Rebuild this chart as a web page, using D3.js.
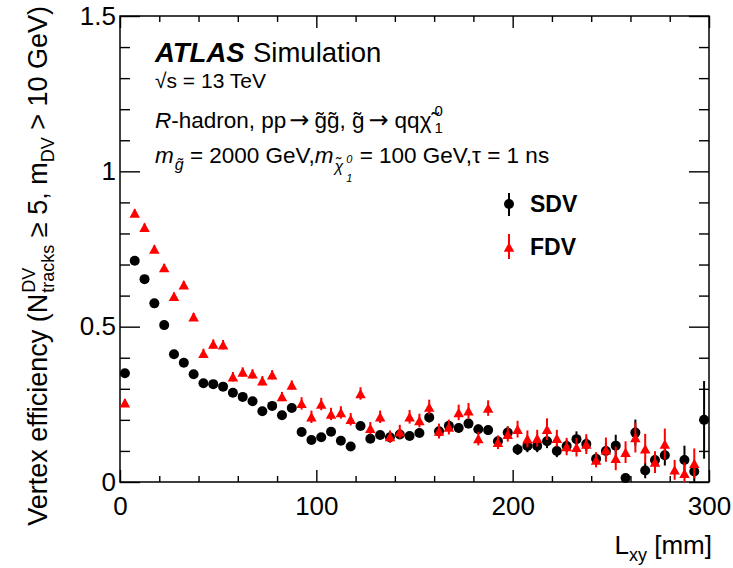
<!DOCTYPE html>
<html>
<head>
<meta charset="utf-8">
<script src="https://cdn.jsdelivr.net/npm/d3@7"></script>
<style>
  body { margin: 0; background: #fff; }
  svg { display: block; }
  text { font-family: "Liberation Sans", Arial, Helvetica, sans-serif; fill: #000; white-space: pre; }
</style>
</head>
<body>
<svg id="chart" width="733" height="568"></svg>
<script>
// Bin centres in L_xy [mm] (5 mm bins)
const Lxy = [2.5, 7.5, 12.5, 17.5, 22.5, 27.5, 32.5, 37.5, 42.5, 47.5,
  52.5, 57.5, 62.5, 67.5, 72.5, 77.5, 82.5, 87.5, 92.5, 97.5,
  102.5, 107.5, 112.5, 117.5, 122.5, 127.5, 132.5, 137.5, 142.5, 147.5,
  152.5, 157.5, 162.5, 167.5, 172.5, 177.5, 182.5, 187.5, 192.5, 197.5,
  202.5, 207.5, 212.5, 217.5, 222.5, 227.5, 232.5, 237.5, 242.5, 247.5,
  252.5, 257.5, 262.5, 267.5, 272.5, 277.5, 282.5, 287.5, 292.5, 297.5];

// SDV efficiency and uncertainty (null = empty bin)
const sdvEff = [0.350, 0.712, 0.653, 0.575, 0.505, 0.411, 0.384, 0.347, 0.318, 0.315,
  0.307, 0.287, 0.274, 0.260, 0.228, 0.245, 0.215, 0.238, 0.161, 0.135,
  0.144, 0.162, 0.133, 0.114, 0.180, 0.139, 0.151, 0.144, 0.153, 0.148,
  0.158, 0.208, 0.163, 0.181, 0.174, 0.188, 0.170, 0.167, 0.131, 0.159,
  0.105, 0.116, 0.116, 0.131, 0.100, 0.116, 0.138, 0.122, 0.075, 0.100,
  0.117, 0.013, 0.159, 0.037, 0.071, 0.086, null, 0.071, 0.034, 0.200];
const sdvErr = [0.010, 0.010, 0.010, 0.010, 0.010, 0.010, 0.010, 0.010, 0.010, 0.010,
  0.010, 0.010, 0.010, 0.010, 0.010, 0.010, 0.010, 0.010, 0.013, 0.013,
  0.013, 0.013, 0.013, 0.013, 0.013, 0.013, 0.013, 0.013, 0.013, 0.013,
  0.013, 0.016, 0.015, 0.015, 0.015, 0.015, 0.015, 0.015, 0.015, 0.020,
  0.018, 0.020, 0.020, 0.022, 0.020, 0.020, 0.025, 0.022, 0.020, 0.025,
  0.035, 0.010, 0.042, 0.025, 0.020, 0.033, null, 0.046, 0.035, 0.125];

// FDV efficiency and uncertainty (null = empty bin)
const fdvEff = [0.255, 0.866, 0.820, 0.750, 0.690, 0.598, 0.635, 0.532, 0.414, 0.444,
  0.442, 0.339, 0.354, 0.348, 0.326, 0.345, 0.275, 0.312, 0.253, 0.210,
  0.251, 0.219, 0.224, 0.202, 0.285, 0.173, 0.210, 0.146, 0.162, 0.210,
  0.198, 0.241, 0.164, 0.177, 0.224, 0.229, 0.140, 0.238, 0.128, 0.154,
  0.170, 0.139, 0.141, 0.170, 0.141, 0.114, 0.112, 0.122, 0.071, 0.104,
  0.076, 0.096, 0.143, 0.107, 0.064, 0.122, 0.039, 0.028, 0.060, null];
const fdvErr = [0.012, 0.012, 0.012, 0.012, 0.012, 0.012, 0.012, 0.012, 0.015, 0.015,
  0.015, 0.015, 0.015, 0.015, 0.015, 0.015, 0.015, 0.015, 0.020, 0.020,
  0.020, 0.020, 0.020, 0.020, 0.020, 0.020, 0.020, 0.020, 0.022, 0.022,
  0.022, 0.024, 0.024, 0.024, 0.025, 0.025, 0.022, 0.025, 0.022, 0.024,
  0.027, 0.027, 0.027, 0.035, 0.027, 0.028, 0.030, 0.032, 0.024, 0.039,
  0.038, 0.035, 0.048, 0.048, 0.035, 0.050, 0.032, 0.035, 0.048, null];

// Axis ticks and labels
const xTicks = [0, 100, 200, 300];
const xTickLabels = ["0", "100", "200", "300"];
const yTicks = [0, 0.5, 1, 1.5];
const yTickLabels = ["0", "0.5", "1", "1.5"];
const xMinorStep = 20;
const yMinorStep = 0.1;

const svg = d3.select("#chart");
const plot = { left: 120, right: 709, top: 16, bottom: 482 };

const x = d3.scaleLinear().domain([0, 300]).range([plot.left, plot.right]);
const y = d3.scaleLinear().domain([0, 1.5]).range([plot.bottom, plot.top]);

const xMinor = d3.range(0, 300 + 1e-9, xMinorStep).filter(v => !xTicks.includes(v));
const yMinor = d3.range(0, 1.5 + 1e-9, yMinorStep).map(v => +v.toFixed(2)).filter(v => !yTicks.includes(v));

function styleAxis(g, fontSize) {
  g.select(".domain").remove();
  g.selectAll(".tick line").attr("stroke", "#000").attr("stroke-width", 1.4);
  g.selectAll("text").style("font-size", fontSize + "px")
    .style("font-family", '"Liberation Sans", Arial, Helvetica, sans-serif').attr("fill", "#000");
}

// Bottom axis (labels + major), minor
svg.append("g").attr("transform", `translate(0,${plot.bottom})`)
  .call(d3.axisBottom(x).tickValues(xTicks).tickFormat((d, i) => xTickLabels[i])
    .tickSizeInner(-12).tickSizeOuter(0).tickPadding(15))
  .call(g => styleAxis(g, 26));
svg.append("g").attr("transform", `translate(0,${plot.bottom})`)
  .call(d3.axisBottom(x).tickValues(xMinor).tickFormat("").tickSizeInner(-6).tickSizeOuter(0))
  .call(g => styleAxis(g, 26));
// Top axis
svg.append("g").attr("transform", `translate(0,${plot.top})`)
  .call(d3.axisTop(x).tickValues(xTicks).tickFormat("").tickSizeInner(-12).tickSizeOuter(0))
  .call(g => styleAxis(g, 26));
svg.append("g").attr("transform", `translate(0,${plot.top})`)
  .call(d3.axisTop(x).tickValues(xMinor).tickFormat("").tickSizeInner(-6).tickSizeOuter(0))
  .call(g => styleAxis(g, 26));

// Left axis
svg.append("g").attr("transform", `translate(${plot.left},0)`)
  .call(d3.axisLeft(y).tickValues(yTicks).tickFormat((d, i) => yTickLabels[i])
    .tickSizeInner(-20).tickSizeOuter(0).tickPadding(4))
  .call(g => styleAxis(g, 26));
svg.append("g").attr("transform", `translate(${plot.left},0)`)
  .call(d3.axisLeft(y).tickValues(yMinor).tickFormat("").tickSizeInner(-10).tickSizeOuter(0))
  .call(g => styleAxis(g, 26));
// Right axis
svg.append("g").attr("transform", `translate(${plot.right},0)`)
  .call(d3.axisRight(y).tickValues(yTicks).tickFormat("").tickSizeInner(-20).tickSizeOuter(0))
  .call(g => styleAxis(g, 26));
svg.append("g").attr("transform", `translate(${plot.right},0)`)
  .call(d3.axisRight(y).tickValues(yMinor).tickFormat("").tickSizeInner(-10).tickSizeOuter(0))
  .call(g => styleAxis(g, 26));

// Frame
svg.append("rect")
  .attr("x", plot.left).attr("y", plot.top)
  .attr("width", plot.right - plot.left).attr("height", plot.bottom - plot.top)
  .attr("fill", "none").attr("stroke", "#000").attr("stroke-width", 1.5);

// Upward triangle marker centred on its bounding box
const triangleUp = {
  draw(ctx, size) {
    const w = Math.sqrt(size), h = 0.9 * w;
    ctx.moveTo(0, -h / 2);
    ctx.lineTo(w / 2, h / 2);
    ctx.lineTo(-w / 2, h / 2);
    ctx.closePath();
  }
};

const series = [
  { name: "SDV", eff: sdvEff, err: sdvErr, color: "#000000", symbol: d3.symbolCircle, size: Math.PI * 25 },
  { name: "FDV", eff: fdvEff, err: fdvErr, color: "#ff0000", symbol: triangleUp, size: 110 }
];

series.forEach(s => {
  const pts = Lxy.map((L, i) => ({ L, v: s.eff[i], e: s.err[i] })).filter(d => d.v != null);
  const g = svg.append("g");
  g.selectAll("line").data(pts).join("line")
    .attr("x1", d => x(d.L)).attr("x2", d => x(d.L))
    .attr("y1", d => y(Math.max(0, d.v - d.e))).attr("y2", d => y(d.v + d.e))
    .attr("stroke", s.color).attr("stroke-width", 2);
  g.selectAll("path").data(pts).join("path")
    .attr("transform", d => `translate(${x(d.L)},${y(d.v)})`)
    .attr("d", d3.symbol(s.symbol, s.size)())
    .attr("fill", s.color);
});

// Legend
const legendRows = [
  { s: series[0], cy: 204, barTop: 193, barBot: 216, ty: 212 },
  { s: series[1], cy: 247, barTop: 234, barBot: 259, ty: 255 }
];
legendRows.forEach(r => {
  svg.append("line").attr("x1", 509).attr("x2", 509).attr("y1", r.barTop).attr("y2", r.barBot)
    .attr("stroke", r.s.color).attr("stroke-width", 2);
  svg.append("path").attr("transform", `translate(509,${r.cy})`)
    .attr("d", d3.symbol(r.s.symbol, r.s.size)()).attr("fill", r.s.color);
  svg.append("text").attr("x", 530).attr("y", r.ty)
    .style("font-size", "23px").style("font-weight", "bold").text(r.s.name);
});

// Rich text helper: runs laid out left to right, "stack" pieces share the x of the previous run
function rich(parent, pieces, anchor) {
  const g = parent.append("g");
  let cx = 0, prevX = 0;
  pieces.forEach(p => {
    const t = g.append("text")
      .attr("xml:space", "preserve")
      .attr("y", p.dy || 0)
      .style("font-size", p.size + "px")
      .style("font-style", p.italic ? "italic" : "normal")
      .style("font-weight", p.bold ? "bold" : "normal")
      .text(p.t);
    if (p.family) t.style("font-family", p.family);
    const w = t.node().getComputedTextLength();
    let px;
    if (p.stack) {
      px = prevX;
      cx = Math.max(cx, prevX + w);
    } else {
      px = cx + (p.dx || 0);
      cx = px + w;
    }
    t.attr("x", px);
    prevX = px;
  });
  if (anchor === "end") g.attr("transform", `translate(${-cx},0)`);
  return g;
}

const arrowFont = '"DejaVu Sans", sans-serif';

// ATLAS label block
const info = svg.append("g");
info.append("text").attr("x", 155).attr("y", 62)
  .style("font-size", "27.5px").style("font-weight", "bold").style("font-style", "italic").text("ATLAS");
info.append("text").attr("x", 253).attr("y", 62)
  .style("font-size", "27.5px").text("Simulation");
info.append("text").attr("x", 155).attr("y", 88)
  .style("font-size", "21px").text("\u221As = 13 TeV");

const line3 = info.append("g").attr("transform", "translate(155,128)");
rich(line3, [
  { t: "R", size: 22.5, italic: true },
  { t: "-hadron, pp", size: 22.5 },
  { t: "\u2192", size: 24, dx: 3, family: arrowFont },
  { t: "g\u0303g\u0303, g\u0303", size: 22.5, dx: 5 },
  { t: "\u2192", size: 24, dx: 4, family: arrowFont },
  { t: "qq\u03C7\u0303", size: 22.5, dx: 6 },
  { t: "0", size: 15, dy: -12, dx: 3 },
  { t: "1", size: 15, dy: 5, stack: true }
]);

const line4 = info.append("g").attr("transform", "translate(155,163)");
rich(line4, [
  { t: "m", size: 22.5, italic: true },
  { t: "g\u0303", size: 16, italic: true, dy: 7, dx: 1 },
  { t: " = 2000 GeV,", size: 22.5 },
  { t: "m", size: 22.5, italic: true },
  { t: "\u03C7\u0303", size: 16, italic: true, dy: 9, dx: 1 },
  { t: "0", size: 11, italic: true, dy: 0, dx: 3 },
  { t: "1", size: 11, italic: true, dy: 19, stack: true },
  { t: " = 100 GeV,", size: 22.5, dx: 1 },
  { t: "\u03C4 = 1 ns", size: 22.5 }
]);

// Axis titles
const xTitle = svg.append("g").attr("transform", "translate(712,554)");
rich(xTitle, [
  { t: "L", size: 26 },
  { t: "xy", size: 18, dy: 7 },
  { t: " [mm]", size: 26 }
], "end");

const yTitle = svg.append("g").attr("transform", "translate(47,6) rotate(-90)");
rich(yTitle, [
  { t: "Vertex efficiency (N", size: 27 },
  { t: "DV", size: 18, dy: -12, dx: 1 },
  { t: "tracks", size: 18, dy: 7, stack: true },
  { t: " \u2265 5, m", size: 27 },
  { t: "DV", size: 18, dy: 7 },
  { t: " > 10 GeV)", size: 27 }
], "end");
</script>
</body>
</html>
